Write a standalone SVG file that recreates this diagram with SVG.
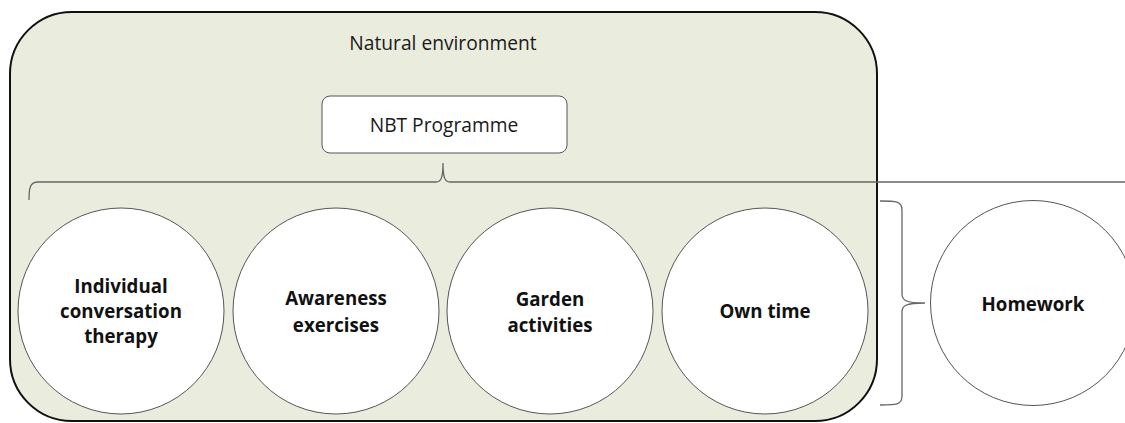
<svg xmlns="http://www.w3.org/2000/svg" width="1125" height="423" viewBox="0 0 1125 423">
<style>
.reg{font-family:"Open Sans","Liberation Sans",sans-serif;font-size:19.2px;fill:#1a1a1a;text-anchor:middle}
.bold{font-family:"Open Sans","Liberation Sans",sans-serif;font-size:18.7px;font-weight:bold;fill:#111;text-anchor:middle}
.circ{fill:#fff;stroke:#555;stroke-width:1}
.brace{fill:none;stroke:#666;stroke-width:1.3}
</style>
<rect width="1125" height="423" fill="#fff"/>
<g id="natural-environment">
<rect x="10" y="12" width="867" height="409" rx="62" ry="62" fill="#EAEDDE" stroke="#111" stroke-width="2"/>
<text class="reg" x="443" y="50">Natural environment</text>
</g>
<g id="nbt-programme">
<rect x="322" y="96" width="245" height="57" rx="8" ry="8" fill="#fff" stroke="#555" stroke-width="1"/>
<text class="reg" x="444" y="132">NBT Programme</text>
</g>
<g id="connectors">
<path class="brace" d="M29,200 C29,188 30,182 38,182 L436,182 C441,182 443,178 443,163 C443,178 445,182 450,182 L1125,182"/>
<path class="brace" d="M880,201 C896,201 902,201 902,210 L902,294 C902,300 905,303 925,303 C905,303 902,306 902,312 L902,396 C902,405 896,405 880,405"/>
</g>
<g id="individual-conversation-therapy">
<circle class="circ" cx="121" cy="311" r="103"/>
<text class="bold" x="121" y="293">Individual</text>
<text class="bold" x="121" y="318">conversation</text>
<text class="bold" x="121" y="343">therapy</text>
</g>
<g id="awareness-exercises">
<circle class="circ" cx="336" cy="311" r="103"/>
<text class="bold" x="336" y="305">Awareness</text>
<text class="bold" x="336" y="332">exercises</text>
</g>
<g id="garden-activities">
<circle class="circ" cx="550" cy="311" r="103"/>
<text class="bold" x="550" y="306">Garden</text>
<text class="bold" x="550" y="332">activities</text>
</g>
<g id="own-time">
<circle class="circ" cx="765" cy="311" r="103"/>
<text class="bold" x="765" y="318">Own time</text>
</g>
<g id="homework">
<circle class="circ" cx="1033" cy="303" r="102.5"/>
<text class="bold" x="1033" y="311">Homework</text>
</g>
</svg>
